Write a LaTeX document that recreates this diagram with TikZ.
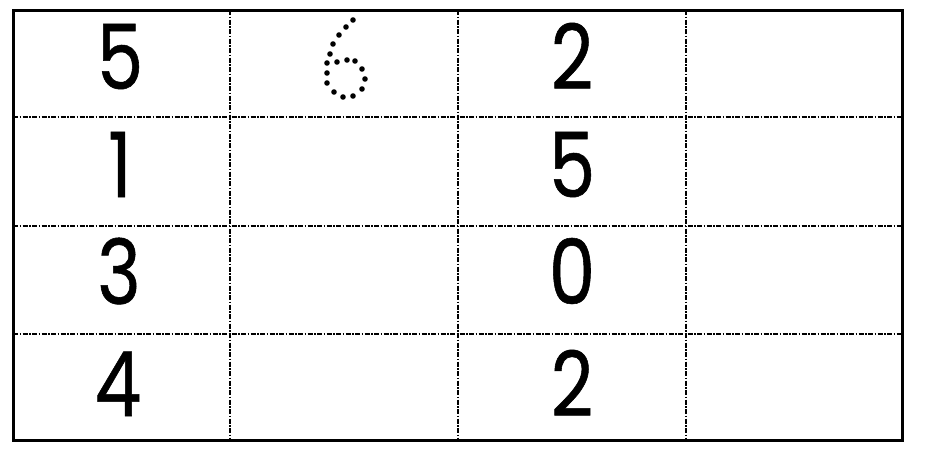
\documentclass[tikz,border=0pt]{standalone}
\usepackage{fontspec}
\newfontfamily\digitfont{Poppins}[FakeStretch=0.82,FakeBold=0.6]

\begin{document}
\begin{tikzpicture}[x=1pt,y=-1pt,
  gridline/.style={line width=1.1pt,dash pattern=on 5pt off 1.5pt on 1.5pt off 1.5pt},
  digit/.style={anchor=base,inner sep=0pt,font=\digitfont\fontsize{90}{90}\selectfont}]
\useasboundingbox (0,0) rectangle (925,451);
% dashed grid
\foreach \x in {230,458,686}
  \draw[gridline] (\x,10) -- (\x,440);
\foreach \y in {117,226,334}
  \draw[gridline] (13,\y) -- (902,\y);
\draw[line width=3pt] (13,10) rectangle (902,440);
% first column
\node[digit] (a1) at (120,89) {5};
\node[digit] (a2) at (120,197) {1};
\node[digit] (a3) at (119,304) {3};
\node[digit] (a4) at (118,416) {4};
% third column
\node[digit] (c1) at (572,89) {2};
\node[digit] (c2) at (572,197) {5};
\node[digit] (c3) at (572,304) {0};
\node[digit] (c4) at (572,416) {2};
% dotted six
\foreach \x/\y in {353/20,346/27,339/35,333/44,330/54,327/63,327/73,327/83,
  334/92,343/97,353/96,362/89,365/79,362/69,355/61,347/60,337/62}
  \fill (\x,\y) circle (2.8pt);
\end{tikzpicture}
\end{document}
